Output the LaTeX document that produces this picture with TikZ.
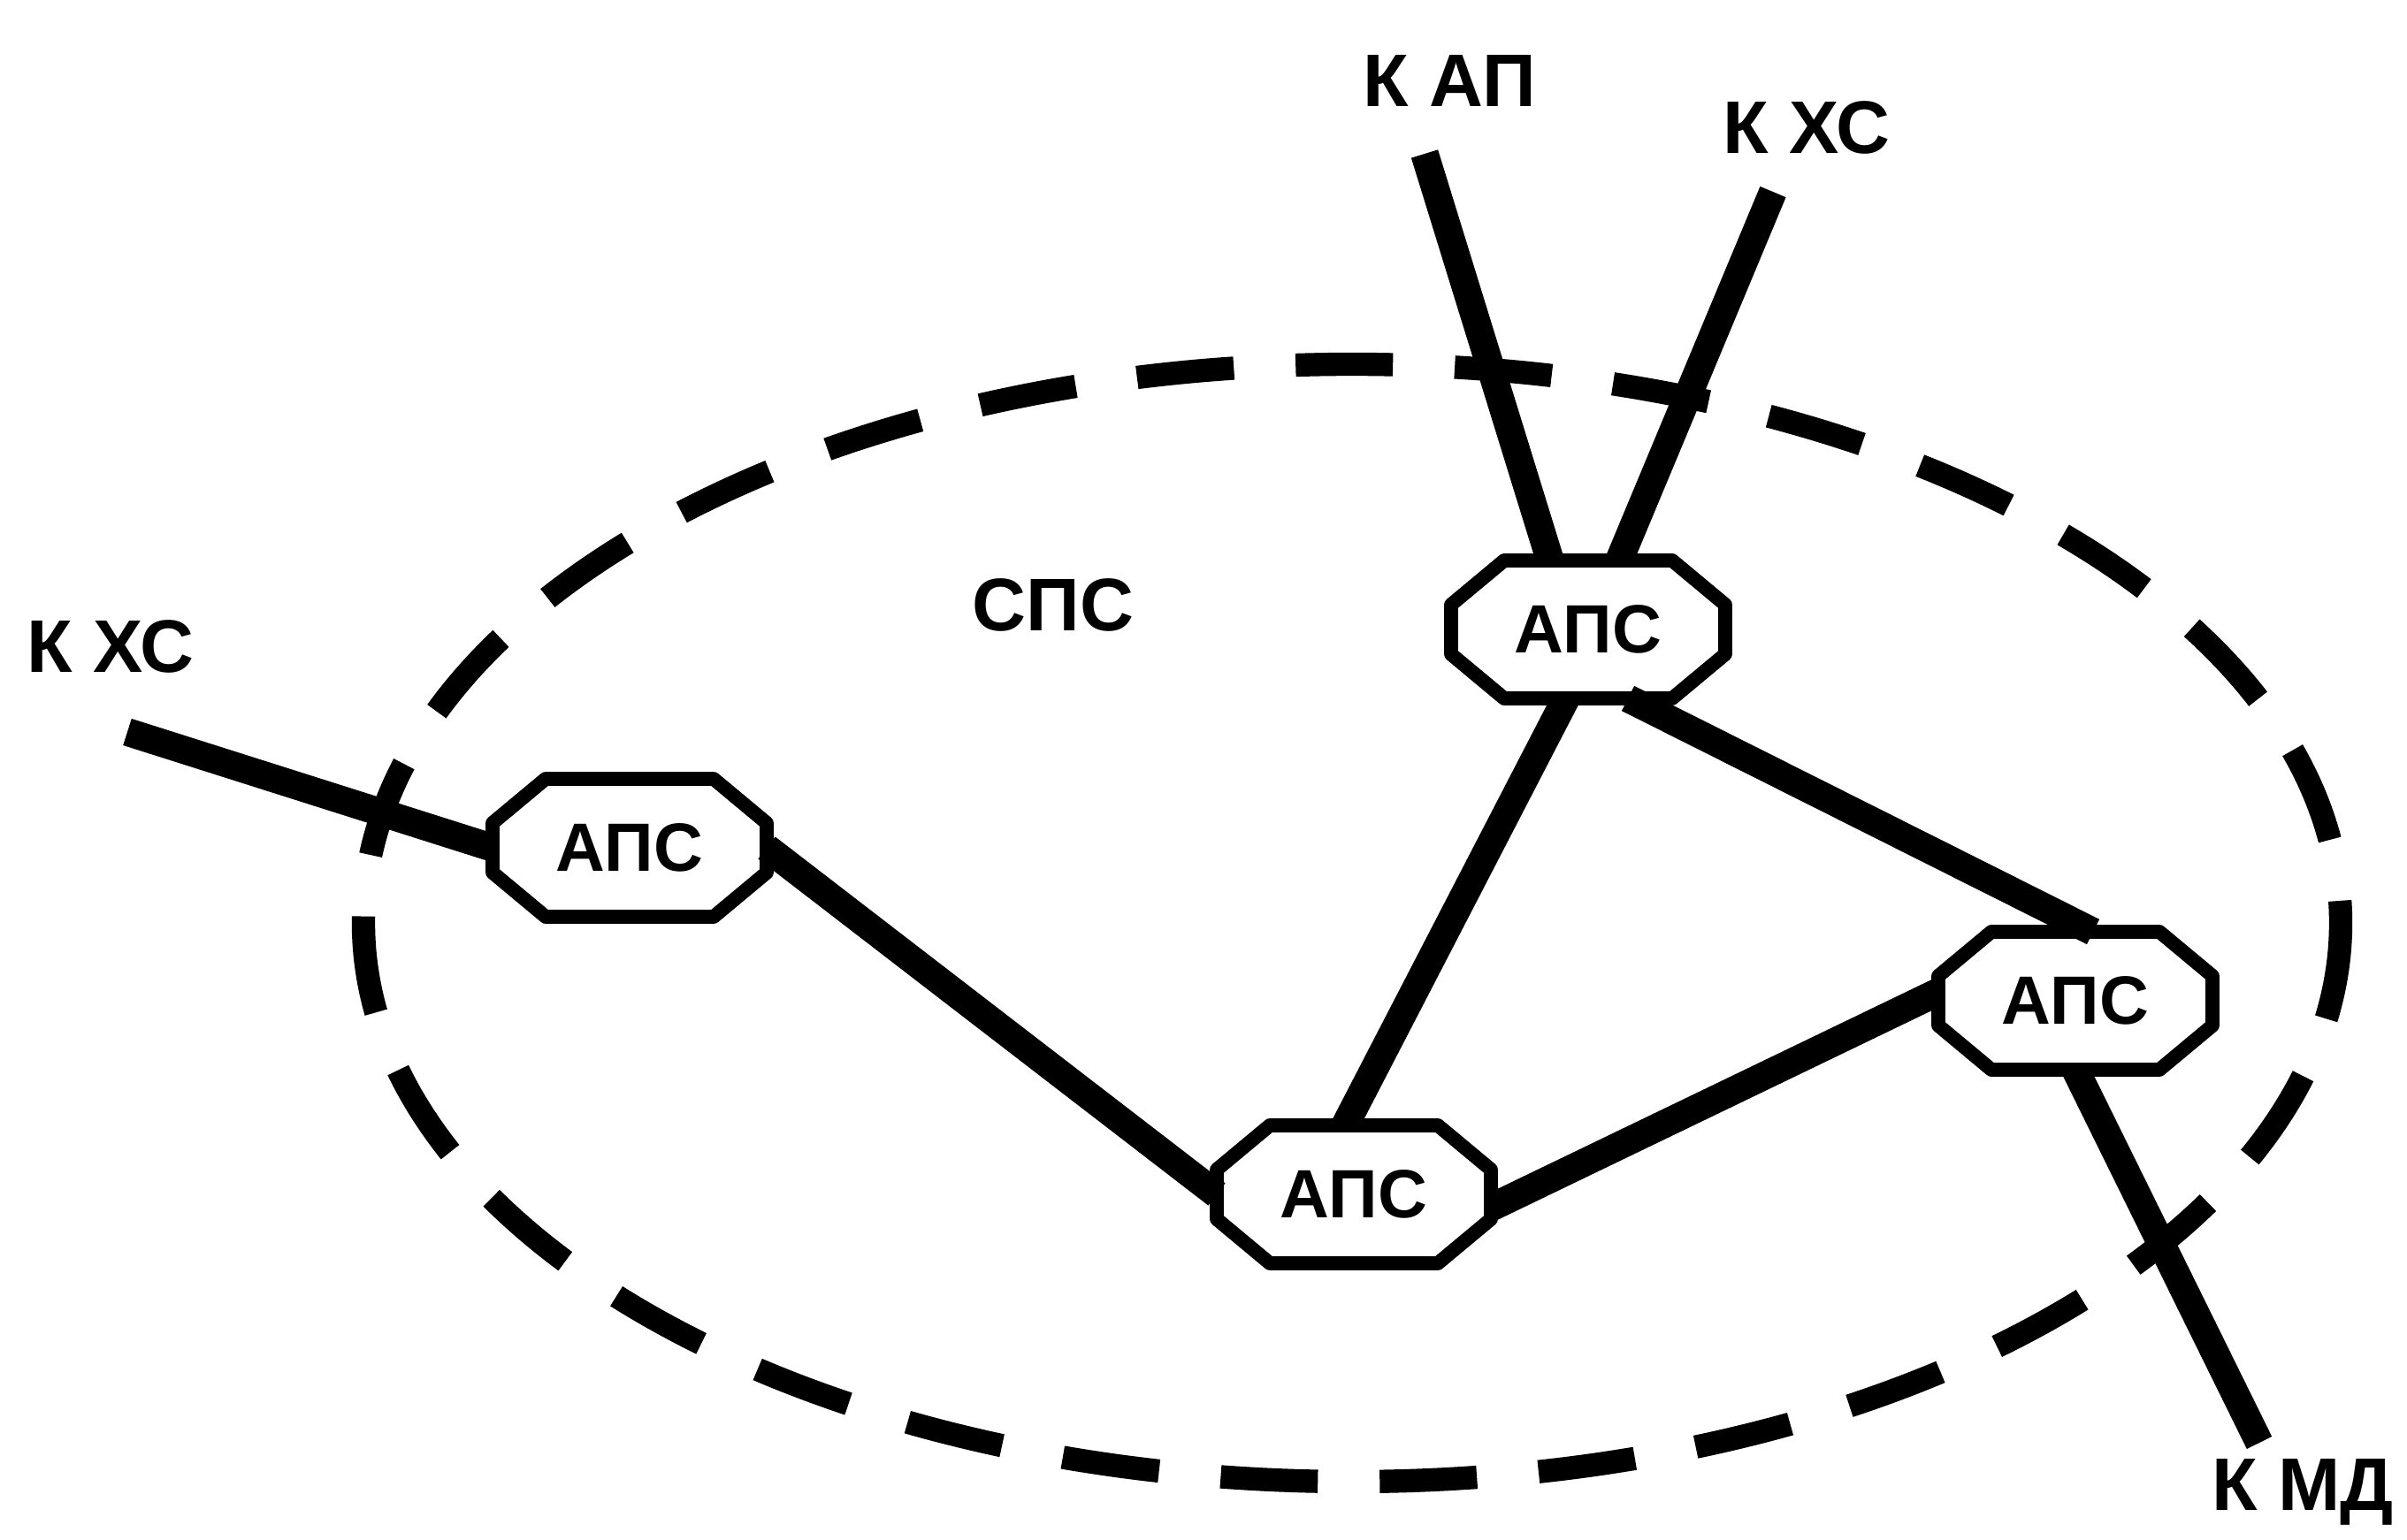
\documentclass[tikz,border=0pt]{standalone}
\usepackage{fontspec}
\setmainfont{Liberation Sans}
\usetikzlibrary{calc}

\tikzset{
  aps/.style={rectangle, minimum width=3.1cm, minimum height=1.56cm,
    inner sep=0pt, outer sep=0pt, font=\fontsize{22}{26}\selectfont\bfseries},
  apsline/.style={line width=4.5pt, line join=round},
  lbl/.style={font=\fontsize{24}{28}\selectfont\bfseries, inner sep=0pt},
  link/.style={line width=9pt},
}

\begin{document}
\begin{tikzpicture}[x=1cm,y=-1cm]
\useasboundingbox (0,0) rectangle (27.22,17.42);

% border of the SPS
\draw[line width=7.5pt, dash pattern=on 1.1cm off 0.7cm] (15.29,10.44) ellipse (11.18 and 6.32);

% switching nodes
\node[aps] (a1) at (17.96,7.12) {АПС};
\node[aps] (a2) at (7.12,9.59) {АПС};
\node[aps] (a3) at (15.31,13.51) {АПС};
\node[aps] (a4) at (23.47,11.32) {АПС};

% octagonal frames
\foreach \n in {a1,a2,a3,a4}
  \draw[apsline] ($(\n.north west)+(0.6,0)$) -- ($(\n.north east)+(-0.6,0)$)
    -- ($(\n.north east)+(0,0.5)$) -- ($(\n.south east)+(0,-0.5)$)
    -- ($(\n.south east)+(-0.6,0)$) -- ($(\n.south west)+(0.6,0)$)
    -- ($(\n.south west)+(0,-0.5)$) -- ($(\n.north west)+(0,0.5)$) -- cycle;

% labels
\node[lbl] (sps) at (11.91,6.84) {СПС};
\node[lbl] (kap) at (16.39,0.92) {К АП};
\node[lbl] (kxs1) at (20.43,1.44) {К ХС};
\node[lbl] (kxs2) at (1.25,7.31) {К ХС};
\node[lbl] (kmd) at (26.04,16.88) {К МД};

% free ends of the outer links
\coordinate (kape) at (16.11,1.74);
\coordinate (kxs1e) at (20.05,2.17);
\coordinate (kxs2e) at (1.44,8.28);
\coordinate (kmde) at (25.55,16.32);

% links
\draw[link] (kape) -- ($(a1.north)+(-0.43,0)$);
\draw[link] (kxs1e) -- ($(a1.north)+(0.35,0)$);
\draw[link] (kxs2e) -- (a2.west);
\draw[link] (a2.east) -- (a3.west);
\draw[link] ($(a1.south)+(-0.25,0)$) -- ($(a3.north)+(-0.1,0)$);
\draw[link] ($(a1.south)+(0.45,0)$) -- ($(a4.north)+(0.2,0)$);
\draw[link] ($(a3.east)+(0,0.15)$) -- ($(a4.west)+(0,-0.1)$);
\draw[link] (a4.south) -- (kmde);

\end{tikzpicture}
\end{document}
